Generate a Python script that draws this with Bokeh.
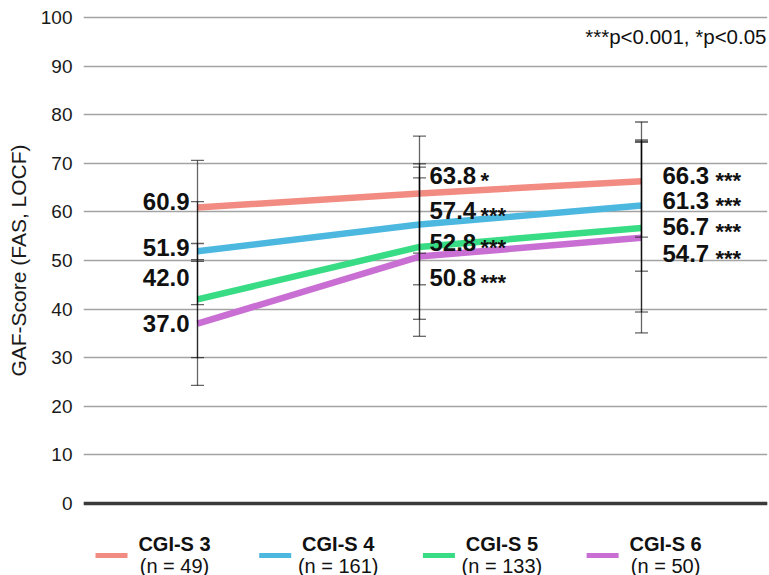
from bokeh.plotting import figure
from bokeh.models import (Range1d, FixedTicker, Span, Whisker, TeeHead,
                          ColumnDataSource, Label)
from bokeh.layouts import column
from bokeh.core.properties import value
from bokeh.embed import file_html
from bokeh.resources import INLINE

# ---------------- data ----------------
visits = [0, 1, 2]

groups = ["CGI-S 3", "CGI-S 4", "CGI-S 5", "CGI-S 6"]
group_n = ["(n = 49)", "(n = 161)", "(n = 133)", "(n = 50)"]

cgi3_mean = [60.9, 63.8, 66.3]
cgi4_mean = [51.9, 57.4, 61.3]
cgi5_mean = [42.0, 52.8, 56.7]
cgi6_mean = [37.0, 50.8, 54.7]

cgi3_upper = [70.6, 75.6, 78.5]
cgi3_lower = [50.2, 51.5, 54.8]
cgi4_upper = [62.1, 69.9, 74.8]
cgi4_lower = [40.9, 45.0, 47.8]
cgi5_upper = [53.5, 69.2, 74.5]
cgi5_lower = [30.0, 37.9, 39.4]
cgi6_upper = [49.8, 67.0, 74.3]
cgi6_lower = [24.3, 34.4, 35.1]

cgi3_sig = ["", "*", "***"]
cgi4_sig = ["", "***", "***"]
cgi5_sig = ["", "***", "***"]
cgi6_sig = ["", "***", "***"]

y_ticks = [0, 10, 20, 30, 40, 50, 60, 70, 80, 90, 100]
note_text = "***p<0.001, *p<0.05"
y_label = "GAF-Score (FAS, LOCF)"

# ---------------- style ----------------
colors = ["#F28C82", "#4CB8E0", "#38DC84", "#C96FD4"]
FONT = "Liberation Sans"
# label pixel offsets (layout only)
label_dx = [-8, 10, 21]
label_align = ["right", "left", "left"]
star_dx = [None, 61, 74]
label_dy = [[-6, -18, -6], [-4, -14, -5], [-22, -4, -1], [0, 21, 16]]

means = [cgi3_mean, cgi4_mean, cgi5_mean, cgi6_mean]
uppers = [cgi3_upper, cgi4_upper, cgi5_upper, cgi6_upper]
lowers = [cgi3_lower, cgi4_lower, cgi5_lower, cgi6_lower]
sigs = [cgi3_sig, cgi4_sig, cgi5_sig, cgi6_sig]

FRAME_L, FRAME_R = 83, 767

p = figure(width=769, height=520, output_backend="svg", toolbar_location=None,
           x_range=Range1d(-0.5135, 2.5676), y_range=Range1d(-3.5, 103.5),
           x_axis_type=None, min_border_left=FRAME_L, min_border_right=769 - FRAME_R,
           min_border_top=0, min_border_bottom=0)
p.outline_line_color = None
p.background_fill_color = "white"
p.xgrid.visible = False
p.ygrid.grid_line_color = "#a3a3a3"
p.ygrid.grid_line_width = 1.5
p.yaxis.ticker = FixedTicker(ticks=y_ticks)
p.yaxis.axis_line_color = None
p.yaxis.major_tick_line_color = None
p.yaxis.minor_tick_line_color = None
p.yaxis.major_tick_out = 0
p.yaxis.major_tick_in = 0
p.yaxis.major_label_text_font = FONT
p.yaxis.major_label_text_font_size = "19px"
p.yaxis.major_label_text_color = "#1a1a1a"
p.yaxis.major_label_standoff = 11
p.yaxis.axis_label = y_label
p.yaxis.axis_label_text_font = FONT
p.yaxis.axis_label_text_font_size = "21px"
p.yaxis.axis_label_text_font_style = "normal"
p.yaxis.axis_label_text_color = "#1a1a1a"
p.yaxis.axis_label_standoff = 8

p.add_layout(Span(location=0, dimension="width", line_color="#3a3a3a",
                  line_width=3.5))

for m, c in zip(means, colors):
    p.line(visits, m, line_color=c, line_width=6.5)

for up, lo in zip(uppers, lowers):
    src = ColumnDataSource(dict(x=visits, upper=up, lower=lo))
    w = Whisker(base="x", upper="upper", lower="lower", source=src,
                dimension="height", line_color="black", line_alpha=0.6,
                line_width=1.3, level="overlay",
                upper_head=TeeHead(size=13, line_color="black", line_alpha=0.6, line_width=1.3),
                lower_head=TeeHead(size=13, line_color="black", line_alpha=0.6, line_width=1.3))
    p.add_layout(w)

for gi, (m, sg) in enumerate(zip(means, sigs)):
    for vi in range(len(visits)):
        p.text(x=[visits[vi]], y=[m[vi]], text=[f"{m[vi]:.1f}"],
               text_font=value(FONT), text_font_style="bold",
               text_font_size="24px", text_color="#111111",
               text_align=label_align[vi], text_baseline="middle",
               x_offset=label_dx[vi], y_offset=label_dy[gi][vi])
        if sg[vi]:
            p.text(x=[visits[vi]], y=[m[vi]], text=[sg[vi]],
                   text_font=value(FONT), text_font_style="bold",
                   text_font_size="22px", text_color="#111111",
                   text_align="left", text_baseline="middle",
                   x_offset=star_dx[vi], y_offset=label_dy[gi][vi] + 5)

p.add_layout(Label(x=p.x_range.end, y=96.1, text=note_text, text_font=FONT,
                   text_font_size="20.5px", text_color="#111111",
                   text_align="right", text_baseline="middle", x_offset=-1))

# ---------------- legend strip (frame aligned with main frame; x in page px) ----------------
lg = figure(width=769, height=55, output_backend="svg", toolbar_location=None,
            x_range=Range1d(FRAME_L, FRAME_R), y_range=Range1d(55, 0),
            x_axis_type=None, y_axis_type=None,
            min_border_left=FRAME_L, min_border_right=769 - FRAME_R,
            min_border_top=0, min_border_bottom=0)
lg.outline_line_color = None
lg.grid.visible = False
centers = [174 + i * 163.7 for i in range(len(groups))]
lg.segment(x0=[c - 79 for c in centers], x1=[c - 47 for c in centers],
           y0=[35] * 4, y1=[35] * 4, line_color=colors, line_width=5)
lg.text(x=centers, y=[23] * 4, text=groups, text_font=value(FONT),
        text_font_style="bold", text_font_size="20px", text_color="#111111",
        text_align="center", text_baseline="middle")
lg.text(x=centers, y=[45] * 4, text=group_n, text_font=value(FONT),
        text_font_size="20px", text_color="#111111",
        text_align="center", text_baseline="middle")

layout = column(p, lg, spacing=0)
open("out.html", "w").write(file_html(layout, INLINE))
